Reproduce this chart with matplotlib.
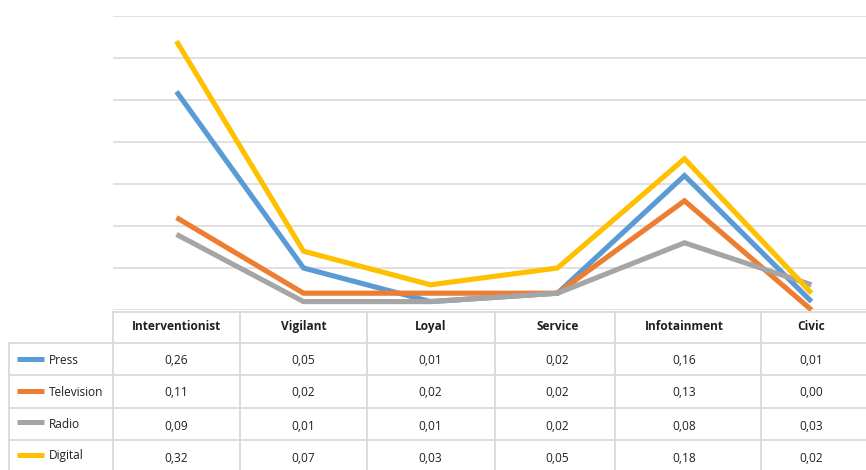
import matplotlib
matplotlib.use("Agg")
import matplotlib.pyplot as plt
from matplotlib.lines import Line2D

categories = ["Interventionist", "Vigilant", "Loyal", "Service", "Infotainment", "Civic"]
series_names = ["Press", "Television", "Radio", "Digital"]
press = [0.26, 0.05, 0.01, 0.02, 0.16, 0.01]
television = [0.11, 0.02, 0.02, 0.02, 0.13, 0.00]
radio = [0.09, 0.01, 0.01, 0.02, 0.08, 0.03]
digital = [0.32, 0.07, 0.03, 0.05, 0.18, 0.02]
series_values = [press, television, radio, digital]
colors = ["#5B9BD5", "#ED7D31", "#A5A5A5", "#FFC000"]

W, H = 866, 470
DPI = 100
plt.rcParams["font.family"] = ["Open Sans", "DejaVu Sans"]

fig = plt.figure(figsize=(W / DPI, H / DPI), dpi=DPI)
fig.patch.set_facecolor("white")

def px_box(left, top, width, height):
    return [left / W, 1 - (top + height) / H, width / W, height / H]

# line chart area
ax = fig.add_axes(px_box(113, 16, 762, 294))
ax.set_xlim(-0.5, len(categories) - 0.5)
ax.set_ylim(0, 0.35)
ax.set_yticks([0.05 * i for i in range(8)])
ax.grid(axis="y", color="#D9D9D9", linewidth=1.1)
ax.set_axisbelow(True)
ax.tick_params(left=False, bottom=False, labelleft=False, labelbottom=False)
for s in ax.spines.values():
    s.set_visible(False)

x = list(range(len(categories)))
for vals, col in zip(series_values, colors):
    ax.plot(x, vals, color=col, linewidth=3.7, solid_joinstyle="miter",
            solid_capstyle="butt", clip_on=False)

# data table overlay in pixel coordinates
tab = fig.add_axes([0, 0, 1, 1])
tab.set_xlim(0, W)
tab.set_ylim(H, 0)
tab.axis("off")
tab.patch.set_alpha(0)

fig.canvas.draw()
centers = [ax.transData.transform((i, 0))[0] for i in x]

grid_c = "#D9D9D9"
text_c = "#231F20"
lw = 1.3
header_top, row_lines, bottom = 311.5, [342.5, 375, 408, 440], 472
col_bounds = [113, 240, 367, 495, 615, 761]
left_edge = 9

tab.plot([113, W], [header_top, header_top], color=grid_c, lw=lw)
for y in row_lines:
    tab.plot([left_edge, W], [y, y], color=grid_c, lw=lw)
tab.plot([left_edge, left_edge], [row_lines[0], bottom], color=grid_c, lw=lw)
for xb in col_bounds:
    tab.plot([xb, xb], [header_top, bottom], color=grid_c, lw=lw)

for cx, name in zip(centers, categories):
    tab.text(cx, 326.5, name, ha="center", va="center", fontsize=8.6,
             fontweight="bold", color=text_c)

label_y = [361, 392.5, 424, 456]
value_y = [360, 392, 427, 459]
key_y = [358.5, 391, 421.5, 455]
for name, vals, col, ly, vy, ky in zip(series_names, series_values, colors,
                                       label_y, value_y, key_y):
    tab.add_line(Line2D([17, 44], [ky, ky], color=col, linewidth=3.6,
                        solid_capstyle="butt"))
    tab.text(49, ly, name, ha="left", va="center", fontsize=8.6, color=text_c)
    for cx, v in zip(centers, vals):
        tab.text(cx, vy, f"{v:.2f}".replace(".", ","), ha="center",
                 va="center", fontsize=8.6, color=text_c)

fig.savefig("out.png", dpi=DPI, facecolor="white")
